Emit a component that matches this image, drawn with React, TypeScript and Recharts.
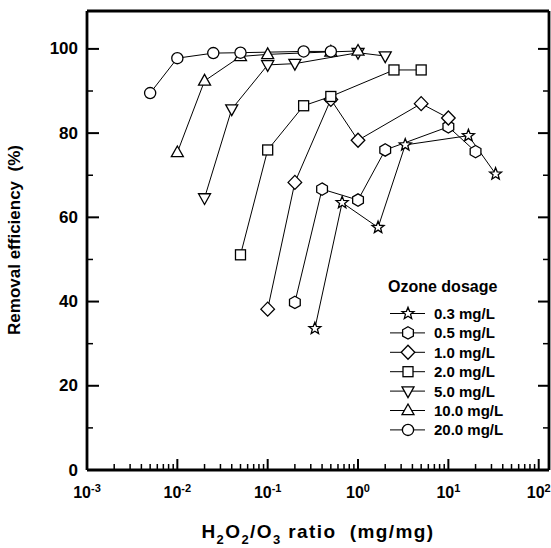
import React from 'react';
import { LineChart, Line, XAxis, YAxis, Legend } from 'recharts';

const FONT = '"Liberation Sans", Arial, Helvetica, sans-serif';

// H2O2/O3 ratio (mg/mg) and removal efficiency (%) per ozone dosage
const ratio03 = [0.333, 0.667, 1.667, 3.333, 16.67, 33.33];
const eff03 = [33.6, 63.5, 57.6, 77.2, 79.4, 70.3];
const ratio05 = [0.2, 0.4, 1, 2, 10, 20];
const eff05 = [39.8, 66.7, 64.1, 76.0, 81.5, 75.6];
const ratio1 = [0.1, 0.2, 0.5, 1, 5, 10];
const eff1 = [38.2, 68.3, 88.0, 78.3, 87.0, 83.6];
const ratio2 = [0.05, 0.1, 0.25, 0.5, 2.5, 5];
const eff2 = [51.1, 76.0, 86.5, 88.7, 95.0, 95.0];
const ratio5 = [0.02, 0.04, 0.1, 0.2, 1, 2];
const eff5 = [64.6, 85.7, 96.2, 96.5, 99.1, 98.3];
const ratio10 = [0.01, 0.02, 0.05, 0.1, 0.5, 1];
const eff10 = [75.4, 92.4, 98.2, 98.7, 99.3, 99.5];
const ratio20 = [0.005, 0.01, 0.025, 0.05, 0.25, 0.5];
const eff20 = [89.5, 97.8, 99.0, 99.1, 99.4, 99.4];

const seriesNames = ['0.3 mg/L', '0.5 mg/L', '1.0 mg/L', '2.0 mg/L', '5.0 mg/L', '10.0 mg/L', '20.0 mg/L'];
const markerKinds = ['star', 'hexagon', 'diamond', 'square', 'triangleDown', 'triangleUp', 'circle'];
const ratios = [ratio03, ratio05, ratio1, ratio2, ratio5, ratio10, ratio20];
const effs = [eff03, eff05, eff1, eff2, eff5, eff10, eff20];

const decadeTicks = [0.001, 0.01, 0.1, 1, 10, 100];
const decadeExponents = ['-3', '-2', '-1', '0', '1', '2'];
const minorMultipliers = [2, 3, 4, 5, 6, 7, 8, 9];
const yTicks = [0, 10, 20, 30, 40, 50, 60, 70, 80, 90, 100];
const yLabelled = [0, 20, 40, 60, 80, 100];

const xTicks: number[] = [];
decadeTicks.forEach((d, i) => {
  xTicks.push(d);
  if (i < decadeTicks.length - 1) minorMultipliers.forEach((m) => xTicks.push(m * d));
});

const series = seriesNames.map((name, i) => ({
  name,
  kind: markerKinds[i],
  data: ratios[i].map((x, j) => ({ x, y: effs[i][j] })),
}));

const decadeIndex = (v: number) => decadeTicks.findIndex((d) => Math.abs(v / d - 1) < 1e-9);

function Marker({ kind, cx, cy }: { kind: string; cx: number; cy: number }) {
  const common = { fill: '#fff', stroke: '#000', strokeWidth: 1.3 };
  const poly = (pts: number[][]) => pts.map((p) => `${cx + p[0]},${cy + p[1]}`).join(' ');
  switch (kind) {
    case 'circle':
      return <circle cx={cx} cy={cy} r={5.6} {...common} />;
    case 'square':
      return <rect x={cx - 5} y={cy - 5} width={10} height={10} {...common} />;
    case 'diamond':
      return <polygon points={poly([[0, -7], [6.8, 0], [0, 7], [-6.8, 0]])} {...common} />;
    case 'triangleUp':
      return <polygon points={poly([[0, -6.5], [6, 4.2], [-6, 4.2]])} {...common} />;
    case 'triangleDown':
      return <polygon points={poly([[-6, -4.2], [6, -4.2], [0, 6.5]])} {...common} />;
    case 'hexagon': {
      const pts: number[][] = [];
      for (let k = 0; k < 6; k++) {
        const a = (-90 + 60 * k) * Math.PI / 180;
        pts.push([6.2 * Math.cos(a), 6.2 * Math.sin(a)]);
      }
      return <polygon points={poly(pts)} {...common} />;
    }
    case 'star': {
      const pts: number[][] = [];
      for (let k = 0; k < 10; k++) {
        const a = (-90 + 36 * k) * Math.PI / 180;
        const r = k % 2 === 0 ? 6.3 : 2.7;
        pts.push([r * Math.cos(a), r * Math.sin(a)]);
      }
      return <polygon points={poly(pts)} {...common} />;
    }
    default:
      return null;
  }
}

const tickText = { fontFamily: FONT, fontWeight: 'bold' as const, fill: '#000' };

const LeftTick = (props: any) => {
  const { x, y, payload } = props;
  const major = yLabelled.includes(payload.value);
  return (
    <g>
      <line x1={x} x2={x + (major ? 12 : 6)} y1={y} y2={y} stroke="#000" strokeWidth={major ? 2 : 1.5} />
      {major && (
        <text x={x - 9} y={y} textAnchor="end" dominantBaseline="central" fontSize={17} {...tickText}>
          {payload.value}
        </text>
      )}
    </g>
  );
};

const RightTick = (props: any) => {
  const { x, y, payload } = props;
  const major = yLabelled.includes(payload.value);
  return <line x1={x} x2={x - (major ? 11 : 6)} y1={y} y2={y} stroke="#000" strokeWidth={major ? 2 : 1.5} />;
};

const BottomTick = (props: any) => {
  const { x, y, payload } = props;
  const idx = decadeIndex(payload.value);
  const major = idx >= 0;
  return (
    <g>
      <line x1={x} x2={x} y1={y} y2={y - (major ? 11 : 6)} stroke="#000" strokeWidth={major ? 2 : 1.5} />
      {major && (
        <text x={x} y={y + 28} textAnchor="middle" fontSize={16} {...tickText}>
          <tspan>10</tspan>
          <tspan dy={-6} fontSize={11}>{decadeExponents[idx]}</tspan>
        </text>
      )}
    </g>
  );
};

const TopTick = (props: any) => {
  const { x, y, payload } = props;
  const major = decadeIndex(payload.value) >= 0;
  return <line x1={x} x2={x} y1={y} y2={y + (major ? 12 : 6)} stroke="#000" strokeWidth={major ? 2 : 1.5} />;
};

const XTitle = () => (
  <text x={318} y={538} textAnchor="middle" fontSize={19} letterSpacing={1.4} style={{ whiteSpace: 'pre' }} {...tickText}>
    H<tspan fontSize={13} dy={6}>2</tspan>
    <tspan dy={-6}>O</tspan>
    <tspan fontSize={13} dy={6}>2</tspan>
    <tspan dy={-6}>/O</tspan>
    <tspan fontSize={13} dy={6}>3</tspan>
    <tspan dy={-6}>{' ratio  (mg/mg)'}</tspan>
  </text>
);

const YTitle = () => (
  <text
    x={14}
    y={240}
    transform="rotate(-90 14 240)"
    textAnchor="middle"
    dominantBaseline="central"
    fontSize={17}
    style={{ whiteSpace: 'pre' }}
    {...tickText}
  >
    {'Removal efficiency  (%)'}
  </text>
);

const LegendBox = () => (
  <svg width={170} height={175} style={{ display: 'block' }}>
    <text x={8} y={22} fontSize={16} {...tickText}>Ozone dosage</text>
    {series.map((s, i) => {
      const cy = 43.5 + i * 19.4;
      return (
        <g key={s.name}>
          <line x1={10} x2={45} y1={cy} y2={cy} stroke="#000" strokeWidth={1} />
          <Marker kind={s.kind} cx={28} cy={cy} />
          <text x={54} y={cy} dominantBaseline="central" fontSize={15} {...tickText}>{s.name}</text>
        </g>
      );
    })}
  </svg>
);

const AXIS_LINE = { stroke: '#000', strokeWidth: 2.8 };

export default function App() {
  return (
    <div style={{ position: 'absolute', left: 0, top: 0, background: '#fff' }}>
      <LineChart width={551} height={548} margin={{ top: 10, right: 0, bottom: 0, left: 0 }}>
        <XAxis
          xAxisId="b"
          type="number"
          dataKey="x"
          scale="log"
          domain={[0.001, 130]}
          allowDataOverflow
          ticks={xTicks}
          interval={0}
          tickSize={0}
          tickMargin={0}
          tickLine={false}
          axisLine={AXIS_LINE}
          tick={BottomTick}
          height={78}
          label={<XTitle />}
        />
        <XAxis
          xAxisId="top"
          orientation="top"
          type="number"
          scale="log"
          domain={[0.001, 130]}
          allowDataOverflow
          ticks={xTicks}
          interval={0}
          tickSize={0}
          tickMargin={0}
          tickLine={false}
          axisLine={AXIS_LINE}
          tick={TopTick}
          height={1}
        />
        <YAxis
          yAxisId="left"
          type="number"
          domain={[0, 109]}
          allowDataOverflow
          ticks={yTicks}
          interval={0}
          tickSize={0}
          tickMargin={0}
          tickLine={false}
          axisLine={AXIS_LINE}
          tick={LeftTick}
          width={87}
          label={<YTitle />}
        />
        <YAxis
          yAxisId="right"
          orientation="right"
          type="number"
          domain={[0, 109]}
          allowDataOverflow
          ticks={yTicks}
          interval={0}
          tickSize={0}
          tickMargin={0}
          tickLine={false}
          axisLine={AXIS_LINE}
          tick={RightTick}
          width={2}
        />
        <Legend
          layout="vertical"
          align="center"
          verticalAlign="middle"
          wrapperStyle={{ left: 380, top: 270, width: 170 }}
          content={() => <LegendBox />}
        />
        {series.map((s) => (
          <Line
            key={s.name}
            name={s.name}
            data={s.data}
            dataKey="y"
            xAxisId="b"
            yAxisId="left"
            type="linear"
            stroke="#000"
            strokeWidth={1}
            isAnimationActive={false}
            activeDot={false}
            dot={(p: any) => <Marker key={`${s.name}-${p.index}`} kind={s.kind} cx={p.cx} cy={p.cy} />}
          />
        ))}
      </LineChart>
    </div>
  );
}
